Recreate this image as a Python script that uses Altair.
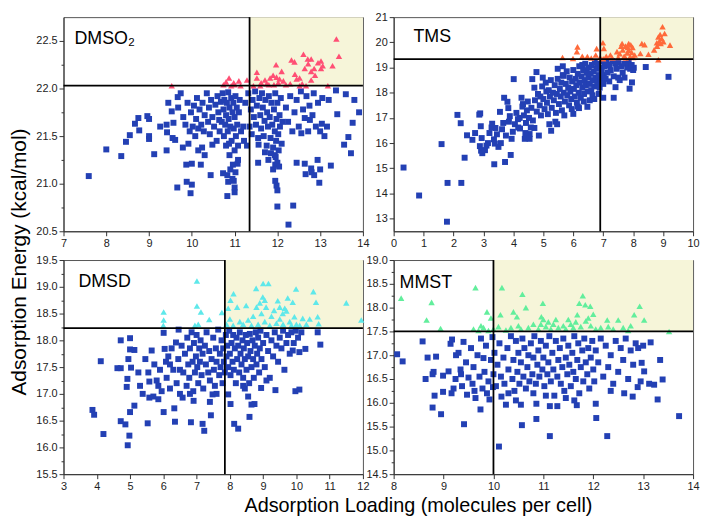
import altair as alt
import pandas as pd

FONT = "Liberation Sans"

# ---------------- DMSO2 ----------------
dmso2_sq = [
(7.59,21.08),(8.00,21.36),(8.35,21.29),(8.46,21.44),(8.55,21.51),(8.67,21.63),(8.75,21.69),(8.77,21.56),(8.96,21.71),(9.00,21.68),
(9.00,21.50),(9.00,21.47),(9.12,21.31),(9.26,21.60),(9.41,21.62),(9.41,21.35),(9.42,21.54),(9.53,21.76),(9.57,21.64),(9.66,20.96),
(9.61,21.46),(9.67,21.91),(9.74,21.95),(9.68,21.80),(9.79,21.38),(9.87,21.20),(9.88,21.02),(9.97,20.90),(10.00,20.99),(10.00,21.21),
(10.21,21.20),(10.24,21.38),(10.44,21.09),(10.48,21.41),(10.64,21.67),(10.73,21.11),(10.83,21.09),(10.83,20.87),(10.85,21.02),(10.98,21.03),
(11.00,20.96),(11.00,20.91),(11.07,21.21),(11.29,21.40),(11.56,21.41),(11.55,21.22),(11.71,21.33),(11.79,21.25),(11.94,21.30),(11.95,21.20),
(11.95,21.03),(11.98,20.98),(12.00,20.93),(12.00,20.76),(12.26,20.57),(12.37,20.77),(12.45,21.22),(12.64,21.21),(12.66,21.10),(12.79,21.16),
(12.80,21.12),(12.86,21.09),(12.94,21.25),(12.98,21.01),(13.00,21.15),(13.25,21.19),(13.56,21.41),(13.66,21.49),(13.72,21.32),(13.76,21.64),
(13.80,21.88),(13.91,21.75),(13.60,21.94),(13.40,21.73),(13.37,21.98),(13.16,21.60),(13.04,21.63),(12.76,21.67),(12.64,21.69),(12.56,21.53),
(9.80,21.70),(9.85,21.62),(9.90,21.85),(9.95,21.55),(9.98,21.75),(10.02,21.60),(10.05,21.82),(10.08,21.50),(10.10,21.68),(10.12,21.90),
(10.15,21.58),(10.18,21.78),(10.22,21.62),(10.25,21.85),(10.28,21.55),(10.30,21.72),(10.35,21.95),(10.38,21.65),(10.40,21.80),(10.42,21.52),
(10.45,21.88),(10.48,21.70),(10.52,21.60),(10.55,21.83),(10.58,21.45),(10.60,21.92),(10.62,21.75),(10.65,21.55),(10.68,21.86),(10.70,21.65),
(10.72,21.95),(10.74,21.78),(10.75,21.50),(10.76,21.88),(10.78,21.62),(10.80,21.72),(10.80,21.40),(10.82,21.85),(10.84,21.55),(10.85,21.96),
(10.86,21.68),(10.88,21.80),(10.88,21.30),(10.90,21.60),(10.92,21.90),(10.93,21.45),(10.95,21.75),(10.96,21.20),(10.97,21.85),(10.98,21.58),
(11.00,21.70),(11.00,21.35),(11.02,21.92),(11.03,21.50),(11.05,21.80),(11.06,21.62),(11.08,21.25),(11.10,21.75),(11.12,21.88),(11.15,21.55),
(10.90,21.15),(10.95,21.05),(11.02,21.12),(10.87,21.42),(11.08,21.40),
(11.32,21.95),(11.35,21.60),(11.38,21.78),(11.40,21.52),(11.42,21.88),(11.45,21.70),(11.48,21.97),(11.50,21.62),(11.52,21.82),(11.55,21.48),
(11.58,21.90),(11.60,21.72),(11.62,21.58),(11.64,21.95),(11.66,21.80),(11.68,21.50),(11.70,21.66),(11.72,21.88),(11.75,21.40),(11.76,21.75),
(11.78,21.60),(11.80,21.92),(11.82,21.70),(11.84,21.48),(11.86,21.85),(11.88,21.62),(11.90,21.38),(11.92,21.78),(11.94,21.55),(11.95,21.95),
(11.97,21.45),(11.98,21.68),(12.00,21.85),(12.02,21.52),(12.03,21.35),(12.05,21.72),(12.06,21.60),(12.08,21.90),(12.10,21.42),(12.12,21.65),
(11.96,21.28),(12.00,21.22),(11.90,21.15),(12.04,21.18),(11.85,21.32),
(12.20,21.80),(12.25,21.65),(12.30,21.92),(12.35,21.55),(12.40,21.75),(12.45,21.88),(12.50,21.60),(12.55,21.97),(12.60,21.78),(12.68,21.92),
(12.72,21.55),(12.75,21.82),(12.82,21.72),(12.85,21.95),(12.90,21.60),(12.95,21.85),(13.00,21.55),(13.05,21.90),(13.10,21.50),(13.20,21.88),
(11.20,21.60),(11.25,21.85),(11.22,21.45),(9.45,21.85),(9.55,21.48),(10.30,21.30),(10.15,21.35),(9.92,21.42),
]
dmso2_tri = [
(9.53,22.03),(10.87,22.11),(10.74,22.04),(10.98,22.06),(11.10,22.08),(11.29,22.09),(11.52,22.11),(11.52,22.17),(11.71,22.09),(11.83,22.11),
(11.90,22.14),(11.97,22.25),(11.98,22.12),(12.10,22.18),(12.14,22.08),(12.33,22.30),(12.40,22.28),(12.41,22.15),(12.52,22.11),(12.61,22.36),
(12.71,22.31),(12.79,22.31),(12.64,22.21),(12.79,22.18),(12.86,22.21),(12.79,22.09),(13.02,22.29),(13.06,22.24),(13.02,22.21),(13.29,22.24),
(13.38,22.52),(13.44,22.34),(13.18,22.03),(12.52,22.03),(12.67,22.03),(11.44,22.03),(11.60,22.03),(11.75,22.05),(11.14,22.03),(10.92,22.03),
(11.00,22.04),(11.62,22.06),(11.92,22.04),(12.02,22.06),(12.20,22.04),(12.05,22.10),(12.72,22.26),(12.58,22.05),(12.88,22.14),(11.80,22.04),
(10.80,22.07),(12.45,22.10),(12.30,22.05),(12.95,22.27),
]

# ---------------- TMS ----------------
tms_sq = [
(0.33,15.03),(0.85,13.92),(1.60,15.96),(1.80,14.42),(1.78,12.88),(2.26,14.42),(2.13,17.12),(2.24,16.79),(2.37,15.42),(2.45,16.31),
(2.63,16.13),(2.72,16.40),(2.86,17.13),(2.89,17.18),(2.91,16.67),(2.94,16.20),(2.88,15.88),(2.92,15.70),(2.96,15.60),(3.05,15.72),
(3.27,16.62),(3.29,16.77),(3.35,16.15),(3.36,15.16),(3.38,15.98),(3.50,15.85),(3.55,17.24),(3.62,16.55),(3.66,16.80),(3.72,15.25),
(3.69,17.80),(3.80,17.64),(3.83,17.39),(3.88,17.07),(3.91,15.53),(3.94,16.17),(4.01,18.54),(4.05,16.75),(4.16,16.62),(4.21,17.00),
(4.27,17.80),(4.32,17.55),(4.38,16.17),(4.45,17.30),(4.54,16.17),(4.54,16.36),(4.58,16.62),(4.63,18.54),(4.70,18.20),(4.77,18.82),
(4.85,16.30),(4.90,17.85),(4.98,18.60),(5.10,18.05),(5.20,16.75),(5.26,16.49),(5.46,16.75),(5.48,18.95),(5.65,19.05),(5.68,18.67),
(6.00,17.16),(6.19,17.39),(6.30,19.10),(6.47,17.44),(6.64,17.90),(6.70,17.75),(7.00,17.80),(7.35,17.80),(7.41,18.22),(7.55,18.50),
(7.71,18.60),(7.88,18.16),(7.96,18.41),(8.02,18.99),(8.42,19.02),(9.18,18.63),(7.90,18.95),(3.40,16.60),(3.45,16.35),(3.58,16.00),
(3.85,16.85),(3.98,16.45),(4.10,17.20),(4.15,16.95),(4.22,16.58),(4.30,17.45),(4.35,17.10),(4.42,16.80),(4.48,17.65),(4.52,17.00),
(4.60,17.40),(4.65,16.90),(4.72,17.70),(4.78,17.25),(4.82,17.95),(4.88,17.50),(4.92,17.10),(4.96,18.25),(5.00,17.75),(5.04,17.35),
(5.08,18.40),(5.12,17.60),(5.15,17.15),(5.18,18.10),(5.22,17.85),(5.25,18.50),(5.28,17.40),(5.32,18.00),(5.35,17.70),(5.38,18.30),
(5.42,17.20),(5.45,17.95),(5.48,18.55),(5.52,17.55),(5.55,18.15),(5.58,17.85),(5.60,18.40),(5.62,17.30),(5.65,18.70),(5.68,18.00),
(5.72,17.65),(5.75,18.35),(5.78,18.85),(5.80,17.90),(5.83,18.20),(5.86,17.50),(5.88,18.60),(5.90,18.05),(5.93,17.75),(5.96,18.45),
(6.00,18.90),(6.02,18.15),(6.05,17.85),(6.08,18.55),(6.10,18.30),(6.12,17.60),(6.15,18.75),(6.18,18.00),(6.20,19.05),(6.22,18.40),
(6.25,17.80),(6.28,18.65),(6.30,18.20),(6.33,18.90),(6.36,17.95),(6.38,18.50),(6.40,19.15),(6.42,18.30),(6.45,18.80),(6.48,18.05),
(6.50,18.60),(6.52,19.00),(6.55,18.35),(6.58,18.75),(6.60,18.10),(6.62,19.10),(6.65,18.50),(6.68,18.85),(6.70,18.25),(6.72,19.20),
(6.75,18.60),(6.78,18.95),(6.80,18.40),(6.82,19.15),(6.85,18.70),(6.88,18.20),(6.90,19.00),(6.92,18.50),(6.95,18.85),(6.98,19.25),
(7.00,18.35),(7.02,18.70),(7.05,19.05),(7.08,18.55),(7.10,19.20),(7.15,18.80),(7.20,19.10),(7.25,18.90),(7.30,19.25),(7.35,18.65),
(7.40,19.15),(7.45,18.95),(7.50,19.20),(7.60,19.05),(7.65,18.80),(7.70,19.15),(7.80,19.00),(7.85,19.20),(7.95,19.10),(8.00,18.90),
(6.15,17.45),(6.35,17.65),(6.55,17.70),(5.70,17.10),(5.40,16.85),(5.95,17.35),(4.40,16.40),(4.70,16.60),(3.75,16.30),(3.15,16.00),
(3.20,16.40),(3.10,15.90),(6.85,17.95),(7.20,18.45),(7.50,18.60),
]
tms_tri = [
(5.64,19.40),(5.99,19.36),(6.14,19.82),(6.12,19.63),(6.47,19.44),(6.75,19.50),(6.78,19.75),(6.99,19.98),(7.02,19.76),(7.24,19.50),
(7.46,19.63),(7.63,19.95),(7.74,19.85),(7.85,19.95),(7.85,19.69),(7.90,19.44),(7.50,19.40),(8.29,19.95),(8.38,19.91),(8.24,19.56),
(8.51,19.53),(8.79,19.98),(8.84,20.21),(8.90,20.31),(8.98,20.62),(9.01,20.02),(9.23,19.89),(8.84,19.31),(6.90,19.40),(7.00,19.35),
(7.10,19.45),(7.30,19.38),(7.55,19.55),(7.65,19.70),(7.70,19.45),(7.80,19.58),(7.82,19.80),(7.95,19.60),(7.98,19.80),(7.75,19.38),
(8.00,19.40),(8.05,19.50),(7.92,19.90),(8.70,19.70),(8.80,19.85),(8.92,19.95),(8.95,20.15),(9.05,20.35),(8.88,20.05),(6.60,19.38),
(6.30,19.45),(7.60,19.85),
]

# ---------------- DMSD ----------------
dmsd_sq = [
(3.87,16.70),(3.92,16.61),(4.12,17.61),(4.20,16.25),(4.62,17.48),(4.72,17.48),(4.72,18.00),(4.72,16.49),(4.86,16.43),(4.93,16.04),
(4.90,17.13),(4.92,17.28),(4.98,16.22),(5.00,16.66),(5.00,18.04),(5.00,17.83),(5.03,17.49),(5.13,16.78),(5.13,17.82),(5.25,17.40),
(5.38,17.00),(5.46,17.65),(5.53,16.45),(5.58,17.23),(5.58,16.93),(5.65,17.81),(5.73,17.55),(5.85,16.90),(6.01,18.14),(6.01,16.66),
(6.04,17.84),(6.08,17.60),(6.15,17.70),(6.33,16.73),(6.35,16.48),(6.38,17.96),(6.46,18.20),(6.58,16.93),(6.83,16.47),(6.91,16.87),
(7.18,16.44),(7.23,16.31),(7.43,16.60),(7.48,16.99),(7.95,16.99),(8.02,16.81),(8.13,16.44),(8.25,16.35),(8.59,16.57),(8.74,16.81),
(8.94,17.11),(9.37,17.07),(9.64,17.45),(9.89,17.81),(9.97,17.05),(10.09,17.08),(10.09,17.78),(10.27,17.84),(10.64,18.15),(10.72,17.92),
(5.80,17.25),(5.90,17.45),(5.95,17.05),(5.70,16.95),(5.85,17.15),(6.10,17.30),(6.20,17.10),(6.25,17.85),(6.30,17.45),(6.40,17.20),
(6.45,17.65),(6.50,17.00),(6.55,17.90),(6.60,17.40),(6.65,17.75),(6.70,17.15),(6.72,18.05),(6.75,17.55),(6.78,17.30),(6.80,17.85),
(6.85,18.15),(6.88,17.60),(6.90,17.05),(6.92,17.95),(6.95,17.40),(6.98,17.70),(7.00,18.10),(7.02,17.50),(7.05,17.20),(7.08,17.85),
(7.10,17.60),(7.12,18.00),(7.15,17.35),(7.18,17.75),(7.20,17.10),(7.25,17.90),(7.28,17.55),(7.30,18.15),(7.35,17.40),(7.38,17.80),
(7.40,17.25),(7.45,17.65),(7.50,18.05),(7.52,17.45),(7.55,17.15),(7.58,17.85),(7.60,17.60),(7.65,18.20),(7.68,17.35),(7.70,17.75),
(7.72,17.50),(7.75,18.00),(7.78,17.20),(7.80,17.85),(7.82,17.60),(7.85,17.40),(7.88,18.10),(7.90,17.70),(7.92,17.90),(7.95,17.50),
(7.98,18.18),(8.00,17.75),(8.02,17.35),(8.05,17.95),(8.08,17.60),(8.10,18.10),(8.12,17.45),(8.15,17.85),(8.18,17.20),(8.20,18.05),
(8.22,17.65),(8.25,17.90),(8.28,17.40),(8.30,18.15),(8.32,17.75),(8.35,17.55),(8.38,18.00),(8.40,17.30),(8.42,17.85),(8.45,17.65),
(8.48,18.10),(8.50,17.45),(8.52,17.95),(8.55,17.70),(8.58,17.20),(8.60,18.12),(8.62,17.80),(8.65,17.50),(8.68,18.00),(8.70,17.65),
(8.72,17.30),(8.75,17.90),(8.78,18.15),(8.80,17.55),(8.82,17.75),(8.85,18.05),(8.88,17.40),(8.90,17.85),(8.92,18.18),(8.95,17.65),
(9.00,17.95),(9.05,17.50),(9.10,18.10),(9.15,17.80),(9.20,17.30),(9.25,18.00),(9.30,17.70),(9.35,18.15),(9.40,17.90),(9.45,17.60),
(9.50,18.05),(9.55,17.85),(9.60,18.18),(9.70,17.95),(9.75,18.10),(9.80,17.75),(9.85,18.15),(9.92,17.95),(9.98,18.18),(10.05,18.05),
(10.15,18.15),(8.45,17.10),(8.55,16.95),(8.65,16.80),(8.40,17.15),(9.10,17.25),(7.60,17.00),(7.40,16.85),(6.80,17.00),(6.50,17.45),
(6.20,17.55),(5.55,17.40),(5.30,17.15),(4.95,17.65),
]
dmsd_tri = [
(6.01,18.53),(6.01,18.38),(6.00,18.28),(7.01,19.11),(7.01,18.64),(7.13,18.53),(7.38,18.39),(7.76,18.52),(8.02,18.75),(8.11,18.87),
(8.22,18.62),(8.49,18.65),(8.79,18.97),(8.80,18.62),(9.00,19.06),(9.16,19.06),(8.99,18.81),(9.09,18.62),(9.33,18.56),(9.44,18.74),
(9.59,18.50),(9.74,18.79),(9.89,18.71),(9.99,18.96),(9.94,18.44),(10.19,18.41),(10.51,18.91),(10.59,18.71),(10.64,18.44),(10.67,18.31),
(11.50,18.70),(11.95,18.38),(6.95,18.28),(7.05,18.30),(7.90,18.30),(8.00,18.40),(8.10,18.28),(8.30,18.35),(8.40,18.30),(8.55,18.38),
(8.65,18.28),(8.70,18.45),(8.85,18.30),(8.95,18.50),(9.05,18.35),(9.20,18.28),(9.25,18.45),(9.40,18.32),(9.50,18.40),(9.60,18.30),
(9.70,18.55),(9.80,18.35),(9.85,18.28),(10.00,18.30),(10.10,18.28),(10.40,18.40),(9.05,18.75),(8.90,18.70),(9.50,18.62),(9.65,18.60),
(10.30,18.30),(7.95,18.60),
]

# ---------------- MMST ----------------
mmst_sq = [
(8.07,17.02),(8.18,16.87),(8.58,17.29),(8.64,16.50),(8.68,16.95),(8.78,16.60),(8.80,16.65),(8.78,15.90),(8.82,16.15),(8.85,16.97),
(8.95,15.76),(8.99,16.23),(8.99,16.57),(9.10,16.66),(9.14,17.24),(9.16,16.20),(9.17,17.33),(9.24,16.50),(9.30,17.05),(9.34,16.70),
(9.37,16.35),(9.41,15.55),(9.47,16.17),(9.50,16.53),(9.58,16.40),(9.64,16.10),(9.74,15.86),(9.80,16.94),(9.87,16.20),(9.92,16.07),
(9.99,16.33),(10.11,15.08),(10.16,16.13),(10.25,15.96),(10.55,15.96),(10.57,15.53),(10.86,15.98),(10.86,15.66),(11.13,15.93),(11.13,15.30),
(11.28,15.93),(11.67,15.95),(12.06,15.68),(12.05,15.98),(12.28,15.30),(12.79,16.13),(12.89,16.33),(12.97,16.84),(13.02,16.66),(13.12,16.40),
(13.15,17.27),(13.22,16.38),(13.29,16.07),(13.34,16.90),(13.39,16.49),(13.72,15.72),
(9.40,17.28),(9.45,16.85),(9.55,17.15),(9.60,16.75),(9.62,16.25),(9.68,17.00),(9.72,16.55),(9.75,17.35),(9.78,16.30),(9.82,16.65),
(9.85,17.20),(9.90,16.45),(9.95,16.90),(9.98,17.38),(10.00,16.60),(10.02,17.05),(10.05,16.35),(10.08,16.80),(10.12,17.25),(10.15,16.55),
(10.20,16.95),(10.22,16.40),(10.28,17.15),(10.30,16.70),(10.35,17.40),(10.38,16.50),(10.40,16.90),(10.42,16.25),(10.45,17.30),(10.48,16.65),
(10.50,17.05),(10.52,16.40),(10.55,16.85),(10.58,17.35),(10.60,16.55),(10.62,17.15),(10.65,16.30),(10.68,16.75),(10.70,17.00),(10.72,16.45),
(10.75,17.25),(10.78,16.60),(10.80,16.95),(10.82,17.40),(10.85,16.40),(10.88,16.80),(10.90,17.10),(10.92,16.55),(10.95,17.30),(10.98,16.70),
(11.00,16.95),(11.02,16.35),(11.05,17.20),(11.08,16.60),(11.10,16.85),(11.12,17.40),(11.15,16.45),(11.18,17.05),(11.20,16.70),(11.22,16.15),
(11.25,17.30),(11.28,16.55),(11.30,16.90),(11.33,17.15),(11.35,16.40),(11.38,16.75),(11.40,17.35),(11.42,16.25),(11.45,16.95),(11.48,16.60),
(11.50,17.20),(11.52,16.80),(11.55,16.35),(11.58,17.05),(11.60,16.65),(11.62,17.40),(11.65,16.50),(11.68,16.90),(11.70,17.25),(11.72,16.20),
(11.75,16.75),(11.78,17.10),(11.80,16.45),(11.82,17.35),(11.85,16.85),(11.88,16.60),(11.90,17.15),(11.92,16.30),(11.95,16.95),(11.98,17.30),
(12.00,16.70),(12.02,16.45),(12.05,17.10),(12.10,16.85),(12.15,17.35),(12.20,16.55),(12.25,17.20),(12.30,16.75),(12.35,17.00),(12.40,16.40),
(12.45,17.30),(12.50,16.65),(12.55,17.15),(12.60,16.90),(12.65,17.35),(12.70,16.50),(12.75,17.10),(12.80,16.80),(12.85,17.25),(12.90,17.15),
(13.00,17.20),(12.95,16.45),(12.62,16.20),(12.35,16.25),(11.45,16.10),(11.62,16.05),(11.05,16.15),(10.80,16.20),(10.45,16.05),(10.30,16.20),
(9.25,17.00),(9.35,16.60),(9.20,16.30),
]
mmst_tri = [
(8.15,18.20),(8.66,17.74),(8.76,18.11),(8.94,17.56),(9.64,18.42),(9.75,17.62),(9.87,17.91),(9.95,17.78),(10.17,18.42),(10.14,17.85),
(10.40,17.91),(10.47,17.81),(10.58,18.28),(10.65,18.00),(10.96,17.81),(10.99,18.09),(11.10,17.70),(11.68,17.85),(11.72,18.09),(11.79,18.25),
(11.84,18.06),(11.94,18.03),(12.00,17.86),(12.28,17.74),(12.50,17.74),(12.82,17.85),(12.93,18.03),(13.02,17.74),(13.52,17.50),
(9.60,17.55),(9.70,17.52),(9.80,17.58),(9.90,17.52),(10.00,17.55),(10.10,17.60),(10.25,17.53),(10.35,17.58),(10.50,17.62),(10.55,17.55),
(10.70,17.58),(10.80,17.65),(10.90,17.55),(11.00,17.75),(11.05,17.60),(11.15,17.55),(11.20,17.65),(11.30,17.58),(11.40,17.62),(11.45,17.55),
(11.55,17.65),(11.60,17.58),(11.65,17.70),(11.75,17.60),(11.85,17.72),(11.90,17.78),(11.95,17.62),(12.05,17.55),(12.15,17.58),(12.30,17.60),
(12.40,17.55),(12.60,17.58),(12.75,17.62),(12.70,17.52),(11.50,17.75),(10.95,17.65),(11.25,17.75),
]

# Panel definitions
labels = ["DMSO\u2082", "TMS", "DMSD", "MMST"]
x_domains = [[7, 14], [0, 10], [3, 12], [8, 14]]
y_domains = [[20.5, 22.75], [12.5, 21], [15.5, 19.5], [14.5, 19]]
x_thresholds = [11.35, 6.9, 7.85, 10.0]
y_thresholds = [22.03, 19.33, 18.23, 17.5]
x_ticks = [list(range(7, 15)), list(range(0, 11)), list(range(3, 13)), list(range(8, 15))]
y_ticks = [[20.5, 21.0, 21.5, 22.0, 22.5], list(range(13, 22)),
           [15.5, 16.0, 16.5, 17.0, 17.5, 18.0, 18.5, 19.0, 19.5],
           [14.5, 15.0, 15.5, 16.0, 16.5, 17.0, 17.5, 18.0, 18.5, 19.0]]
y_formats = [".1f", "d", ".1f", ".1f"]
tri_colors = ["#ff4f74", "#ff6a3a", "#5ee8ea", "#62ee9c"]
label_pos = [(11, 27), (20, 25), (15, 27), (6, 28)]
squares = [dmso2_sq, tms_sq, dmsd_sq, mmst_sq]
triangles = [dmso2_tri, tms_tri, dmsd_tri, mmst_tri]
y_title = "Adsorption Energy (kcal/mol)"
x_title = "Adsorption Loading (molecules per cell)"

SQ_COLOR = "#2340b4"
FILL = "#f6f5d9"
W, H = 302, 216


def with_minor(major):
    """Major tick values plus the midpoints between them (minor ticks)."""
    out = list(major)
    for a, b in zip(major[:-1], major[1:]):
        out.append((a + b) / 2)
    return sorted(out)


def make_axis(major, fmt):
    step = major[1] - major[0]
    test = f"abs(datum.value/{step} - round(datum.value/{step})) > 0.01"
    return alt.Axis(
        values=with_minor(major), format=fmt, title=None, labelFlush=False,
        labelExpr=f"{test} ? '' : datum.label",
        tickSize={"condition": {"test": test, "value": 2.5}, "value": 4.5},
    )


def panel(i):
    xs = alt.Scale(domain=x_domains[i], nice=False, zero=False)
    ys = alt.Scale(domain=y_domains[i], nice=False, zero=False)
    xa = make_axis(x_ticks[i], "d")
    ya = make_axis(y_ticks[i], y_formats[i])
    one = pd.DataFrame({"k": [0]})
    sq = pd.DataFrame(squares[i], columns=["x", "y"])
    tr = pd.DataFrame(triangles[i], columns=["x", "y"])

    rect = alt.Chart(one).mark_rect(color=FILL).encode(
        x=alt.X(datum=x_thresholds[i], type="quantitative", scale=xs, axis=xa),
        x2=alt.X2(datum=x_domains[i][1]),
        y=alt.Y(datum=y_thresholds[i], type="quantitative", scale=ys, axis=ya),
        y2=alt.Y2(datum=y_domains[i][1]),
    )
    pts_sq = alt.Chart(sq).mark_square(size=36, color=SQ_COLOR, opacity=1).encode(
        x=alt.X("x:Q", scale=xs, axis=xa),
        y=alt.Y("y:Q", scale=ys, axis=ya),
    )
    pts_tr = alt.Chart(tr).mark_point(shape="triangle-up", filled=True, size=42,
                                      color=tri_colors[i], opacity=1).encode(
        x=alt.X("x:Q", scale=xs, axis=xa),
        y=alt.Y("y:Q", scale=ys, axis=ya),
    )
    vline = alt.Chart(one).mark_rule(color="black", strokeWidth=1.8).encode(
        x=alt.X(datum=x_thresholds[i], type="quantitative", scale=xs, axis=xa),
    )
    hline = alt.Chart(one).mark_rule(color="black", strokeWidth=1.8).encode(
        y=alt.Y(datum=y_thresholds[i], type="quantitative", scale=ys, axis=ya),
    )
    lx, ly = label_pos[i]
    label = alt.Chart(one).mark_text(align="left", baseline="alphabetic", fontSize=18,
                                     font=FONT, color="black").encode(
        x=alt.value(lx), y=alt.value(ly), text=alt.value(labels[i]),
    )
    layers = [rect, pts_sq, pts_tr, vline, hline, label]
    if i == 0:
        layers.append(alt.Chart(one).mark_text(angle=270, align="center", baseline="middle",
                                               fontSize=21, font=FONT, color="black").encode(
            x=alt.value(-44), y=alt.value(247), text=alt.value(y_title)))
    if i == 2:
        layers.append(alt.Chart(one).mark_text(align="center", baseline="alphabetic",
                                               fontSize=20, font=FONT, color="black").encode(
            x=alt.value(358), y=alt.value(H + 38), text=alt.value(x_title)))
    return alt.layer(*layers).properties(width=W, height=H)


chart = alt.ConcatChart(
    concat=[panel(0), panel(1), panel(2), panel(3)],
    columns=2,
    spacing={"row": 29, "column": 31},
    bounds="flush",
    padding=0,
).configure_view(stroke="#555", strokeWidth=1).configure_axis(
    grid=False, labelFont=FONT, labelFontSize=11, labelColor="#222",
    tickColor="#333", domainColor="#333", labelPadding=2,
)

chart.save("out.html", embed_options={"renderer": "svg", "actions": False})
